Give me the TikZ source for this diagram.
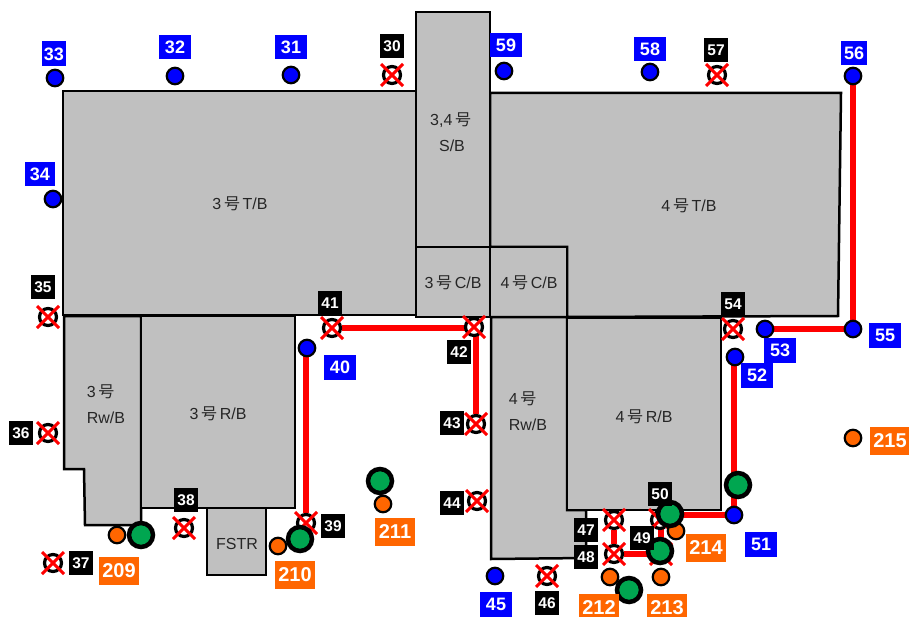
\documentclass[tikz,border=0pt]{standalone}
\usepackage{fontspec}
\setmainfont{Liberation Sans}
\newfontfamily\cjk{Noto Sans CJK JP}
\usetikzlibrary{shapes.misc}
\newcommand{\gou}{\,{\cjk 号}\,}
\pgfdeclarelayer{base}
\pgfdeclarelayer{lines}
\pgfsetlayers{base,lines,main}
\definecolor{bldgray}{RGB}{192,192,192}
\definecolor{dotorange}{RGB}{255,102,0}
\definecolor{dotgreen}{RGB}{0,166,80}
\tikzset{
  building/.style={draw=black,fill=bldgray,line width=2.5pt,line join=miter},
  bldg label/.style={font=\fontsize{16}{18}\selectfont,text=black!85,align=center,inner sep=0pt},
  main line/.style={draw=red,line width=6pt},
  blue node/.style={circle,draw=black,fill=blue,line width=2.2pt,minimum size=16.5pt,inner sep=0pt},
  orange node/.style={circle,draw=black,fill=dotorange,line width=2.2pt,minimum size=16.5pt,inner sep=0pt},
  green node/.style={circle,draw=black,fill=dotgreen,line width=4.5pt,minimum size=24pt,inner sep=0pt},
  off node/.style={circle,draw=black,fill=white,line width=3.2pt,minimum size=17pt,inner sep=0pt},
  cross/.style={cross out,draw=red,line width=3pt,minimum size=19pt,inner sep=0pt},
  black label/.style={fill=black,text=white,font=\bfseries\fontsize{15.5}{15.5}\selectfont,minimum width=24pt,minimum height=23.5pt,inner sep=0pt},
  blue label/.style={fill=blue,text=white,font=\bfseries\fontsize{18}{18}\selectfont,minimum width=32pt,minimum height=25pt,inner sep=0pt},
  orange label/.style={fill=dotorange,text=white,font=\bfseries\fontsize{20}{20}\selectfont,minimum width=40pt,minimum height=28pt,inner sep=0pt},
}
\begin{document}
\begin{tikzpicture}[x=1pt,y=-1pt]
\useasboundingbox (0,0) rectangle (909,617);
% buildings
\begin{pgfonlayer}{base}
\draw[building] (63,91) -- (416,91) -- (416,315) -- (63,315) -- cycle;
\draw[building] (490,93) -- (841,93) -- (838,316) -- (567,317) -- (567,247) -- (490,247) -- cycle;
\draw[building] (416,12) -- (490,12) -- (490,247) -- (416,247) -- cycle;
\draw[building] (416,247) -- (490,247) -- (490,317) -- (416,317) -- cycle;
\draw[building] (490,247) -- (567,247) -- (567,317) -- (490,317) -- cycle;
\draw[building] (64,316) -- (141,316) -- (141,525) -- (85,525) -- (84,469) -- (64,469) -- cycle;
\draw[building] (141,316) -- (295,316) -- (295,508) -- (141,508) -- cycle;
\draw[building] (207,508) -- (266,508) -- (266,575) -- (207,575) -- cycle;
\draw[building] (491,317) -- (567,317) -- (567,510) -- (586,510) -- (586,558) -- (491,559) -- cycle;
\draw[building] (567,318) -- (721,318) -- (721,510) -- (567,510) -- cycle;
\end{pgfonlayer}
\begin{scope}[every node/.style={bldg label}]
\node (b3tb) at (240,204) {3\gou T/B};
\node (b4tb) at (689,206) {4\gou T/B};
\node (b34sb) at (452,132) {3,4\gou\\[8pt]S/B};
\node (b3cb) at (453,283) {3\gou C/B};
\node (b4cb) at (529,283) {4\gou C/B};
\node[align=left] (b3rw) at (106,404) {3\gou\\[8pt]Rw/B};
\node (b3rb) at (218,414) {3\gou R/B};
\node (bfstr) at (237,544) {FSTR};
\node[align=left] (b4rw) at (528,411) {4\gou\\[8pt]Rw/B};
\node (b4rb) at (644,417) {4\gou R/B};
\end{scope}
% points, numbered as printed
\node[blue node] (v33) at (55,78) {};
\node[blue node] (v32) at (175,76) {};
\node[blue node] (v31) at (291,75) {};
\node[blue node] (v59) at (504,71) {};
\node[blue node] (v58) at (650,72) {};
\node[blue node] (v56) at (853,76) {};
\node[blue node] (v34) at (53,199) {};
\node[blue node] (v40) at (307,348) {};
\node[blue node] (v53) at (765,329) {};
\node[blue node] (v55) at (853,329) {};
\node[blue node] (v52) at (735,357) {};
\node[blue node] (v51) at (734,515) {};
\node[blue node] (v45) at (495,576) {};
\node[off node] (v30) at (392,75) {};
\node[off node] (v57) at (717,75) {};
\node[off node] (v35) at (48,317) {};
\node[off node] (v41) at (332,328) {};
\node[off node] (v42) at (474,327) {};
\node[off node] (v54) at (733,329) {};
\node[off node] (v43) at (476,424) {};
\node[off node] (v36) at (48,433) {};
\node[off node] (v44) at (477,501) {};
\node[off node] (v38) at (184,528) {};
\node[off node] (v37) at (53,563) {};
\node[off node] (v39) at (306,523) {};
\node[off node] (v46) at (547,576) {};
\node[off node] (v47) at (614,520) {};
\node[off node] (v48) at (614,554) {};
\node[off node] (v49) at (661,554) {};
\node[off node] (v50) at (660,520) {};
\begin{pgfonlayer}{lines}
\draw[main line] (v41) -- (v41 -| v42);
\draw[main line] (v43 |- v42) -- (v43);
\draw[main line] (v39 |- v40) -- (v39);
\draw[main line] (v51 |- v52) -- (v51);
\draw[main line] (v53) -- (v55);
\draw[main line] (v55) -- (v55 |- v56);
\draw[main line] (v51) -- (v51 -| v50);
\draw[main line] (v47) -- (v48);
\draw[main line] (v48) -- (v49);
\draw[main line] (v49) -- (v49 |- v50);
\end{pgfonlayer}
\node[cross] (x30) at (v30) {};
\node[cross] (x57) at (v57) {};
\node[cross] (x35) at (v35) {};
\node[cross] (x41) at (v41) {};
\node[cross] (x42) at (v42) {};
\node[cross] (x54) at (v54) {};
\node[cross] (x43) at (v43) {};
\node[cross] (x36) at (v36) {};
\node[cross] (x44) at (v44) {};
\node[cross] (x38) at (v38) {};
\node[cross] (x37) at (v37) {};
\node[cross] (x39) at (v39) {};
\node[cross] (x46) at (v46) {};
\node[cross] (x47) at (v47) {};
\node[cross] (x48) at (v48) {};
\node[cross] (x49) at (v49) {};
\node[cross] (x50) at (v50) {};
\node[orange node] (o209) at (117,535) {};
\node[orange node] (o210) at (278,546) {};
\node[orange node] (o211) at (383,504) {};
\node[orange node] (o212) at (610,577) {};
\node[orange node] (o213) at (661,577) {};
\node[orange node] (o214) at (676,531) {};
\node[orange node] (o215) at (853,438) {};
\node[green node] (g209) at (141,535) {};
\node[green node] (g210) at (300,539) {};
\node[green node] (g211) at (380,481) {};
\node[green node] (g212) at (629,590) {};
\node[green node] (g213) at (660,551) {};
\node[green node] (g214) at (670,514) {};
\node[green node] (g215) at (738,485) {};
% labels
\node[blue label,minimum width=24pt] (t33) at (54,54) {33};
\node[blue label,minimum height=24pt] (t32) at (175,47) {32};
\node[blue label,minimum height=24pt] (t31) at (291,47) {31};
\node[blue label,minimum height=24pt] (t59) at (506,45) {59};
\node[blue label,minimum height=24pt] (t58) at (650,49) {58};
\node[blue label,minimum width=26pt,minimum height=24pt] (t56) at (854,53) {56};
\node[blue label,minimum width=30pt,minimum height=24pt] (t34) at (40,174) {34};
\node[blue label] (t40) at (340,367) {40};
\node[blue label] (t53) at (780,350) {53};
\node[blue label] (t55) at (885,335) {55};
\node[blue label] (t52) at (757,375) {52};
\node[blue label] (t51) at (761,544) {51};
\node[blue label] (t45) at (496,604) {45};
\node[black label] (t30) at (392,46) {30};
\node[black label] (t57) at (716,50) {57};
\node[black label] (t35) at (43,287) {35};
\node[black label] (t41) at (330,303) {41};
\node[black label] (t42) at (459,352) {42};
\node[black label] (t54) at (733,304) {54};
\node[black label] (t43) at (452,423) {43};
\node[black label] (t36) at (21,433) {36};
\node[black label] (t44) at (452,503) {44};
\node[black label] (t38) at (186,500) {38};
\node[black label] (t37) at (81,563) {37};
\node[black label] (t39) at (333,526) {39};
\node[black label] (t46) at (547,603) {46};
\node[black label] (t47) at (586,530) {47};
\node[black label] (t48) at (586,557) {48};
\node[black label] (t49) at (642,538) {49};
\node[black label] (t50) at (660,494) {50};
\node[orange label] (t209) at (119,571) {209};
\node[orange label] (t210) at (295,575) {210};
\node[orange label] (t211) at (395,532) {211};
\node[orange label] (t212) at (599,608) {212};
\node[orange label] (t213) at (667,608) {213};
\node[orange label] (t214) at (706,548) {214};
\node[orange label] (t215) at (890,441) {215};
\end{tikzpicture}
\end{document}
